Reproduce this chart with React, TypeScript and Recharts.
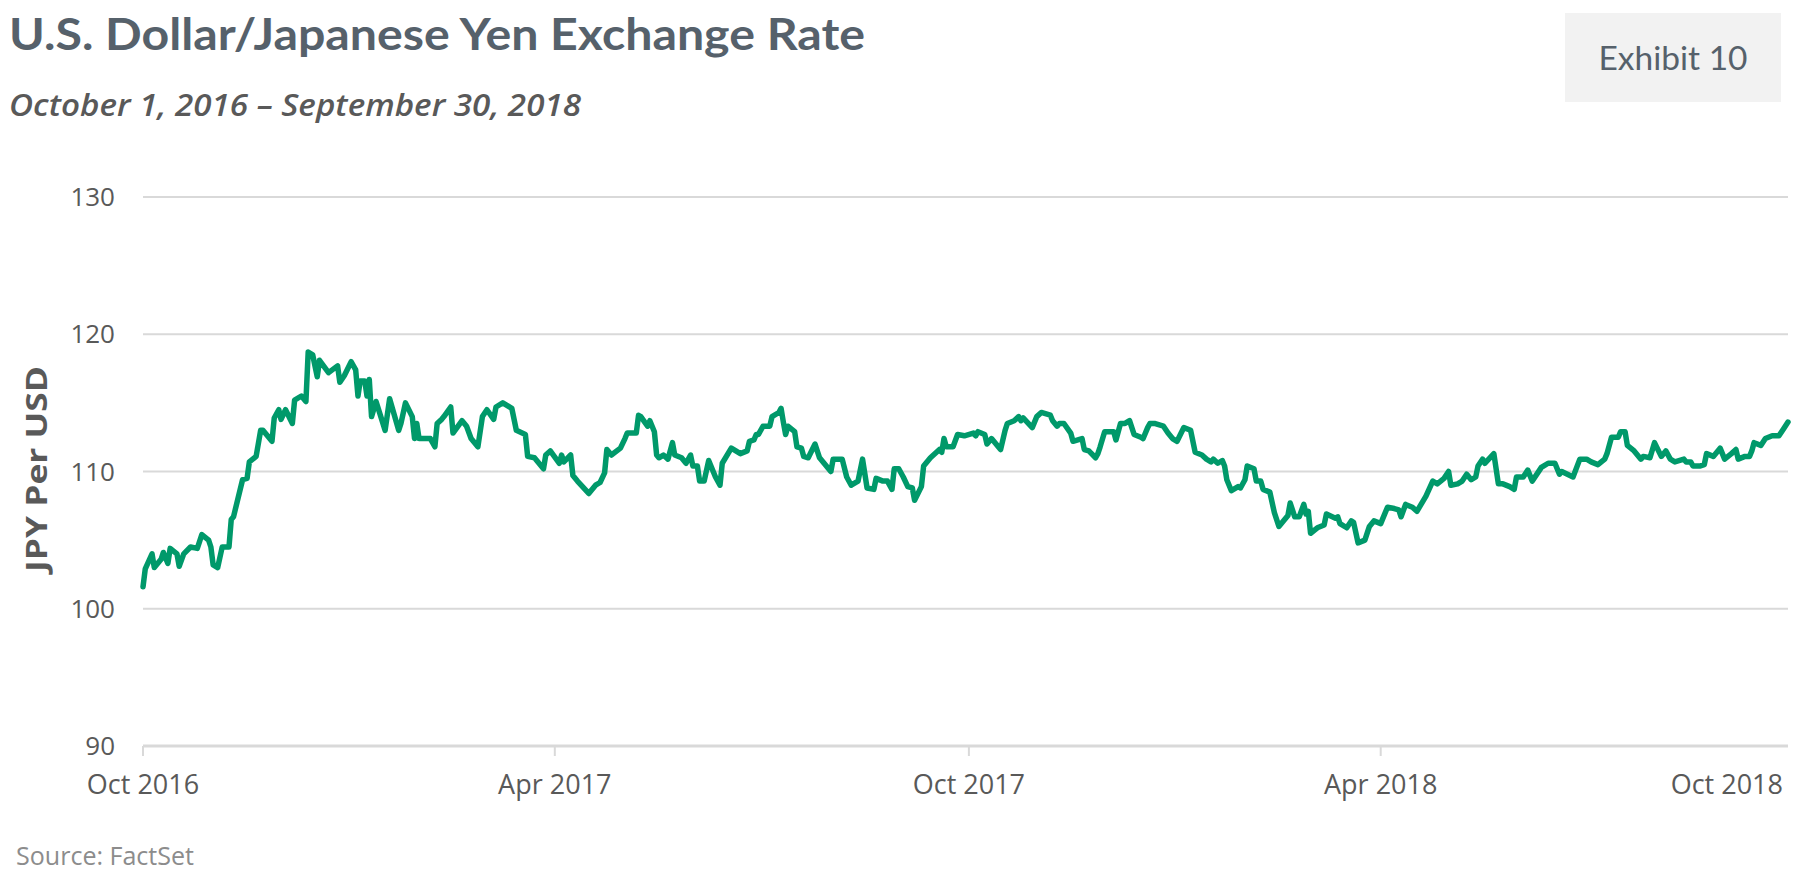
import React from 'react';
import { LineChart, Line, XAxis, YAxis, CartesianGrid } from 'recharts';

// days since Oct 1, 2016
const dayOffsets = [
  0, 1, 4, 5, 8, 9, 11, 12, 15, 16,
  18, 21, 24, 26, 29, 30, 31, 33, 35, 38,
  39, 40, 44, 46, 47, 50, 52, 53, 57, 58,
  60, 61, 63, 66, 67, 70, 72, 73, 75, 77,
  78, 82, 86, 87, 89, 92, 94, 95, 96, 98,
  99, 100, 101, 103, 107, 109, 113, 114, 116, 119,
  120, 121, 122, 127, 129, 130, 132, 133, 136, 137,
  141, 143, 145, 148, 150, 152, 155, 156, 159, 163,
  165, 169, 170, 173, 177, 178, 180, 184, 185, 186,
  189, 190, 192, 197, 200, 202, 204, 205, 207, 211,
  213, 214, 218, 219, 220, 223, 224, 226, 227, 228,
  230, 232, 234, 235, 238, 240, 242, 243, 245, 246,
  248, 250, 253, 255, 256, 260, 264, 267, 268, 270,
  271, 272, 274, 277, 278, 281, 282, 283, 284, 285,
  288, 289, 291, 292, 294, 297, 299, 301, 304, 305,
  309, 311, 313, 316, 318, 320, 323, 324, 327, 329,
  331, 332, 334, 336, 338, 340, 341, 344, 345, 348,
  352, 353, 354, 355, 358, 360, 363, 367, 368, 369,
  372, 373, 375, 379, 381, 382, 385, 387, 388, 389,
  393, 395, 397, 401, 402, 404, 405, 407, 410, 411,
  415, 416, 418, 421, 422, 423, 425, 429, 430, 432,
  434, 436, 438, 441, 442, 444, 445, 447, 451, 453,
  455, 457, 460, 463, 465, 468, 470, 472, 473, 475,
  477, 478, 479, 481, 484, 485, 487, 488, 491, 492,
  494, 495, 498, 500, 502, 506, 507, 509, 511, 513,
  514, 515, 516, 519, 522, 523, 527, 528, 529, 532,
  534, 535, 537, 540, 542, 544, 547, 548, 550, 553,
  555, 556, 558, 561, 563, 567, 570, 572, 575, 577,
  578, 581, 583, 585, 587, 589, 590, 592, 593, 597,
  599, 601, 604, 606, 607, 610, 612, 614, 618, 621,
  624, 626, 627, 632, 635, 638, 640, 643, 646, 647,
  649, 652, 653, 655, 656, 659, 662, 663, 666, 668,
  671, 673, 675, 677, 681, 682, 684, 685, 688, 690,
  691, 694, 697, 699, 702, 704, 705, 708, 710, 711,
  712, 715, 717, 720, 723, 725, 727,
];

// JPY per USD
const rates = [
  101.6, 102.9, 104.0, 103.0, 103.6, 104.1, 103.3, 104.4, 104.0, 103.1,
  104.0, 104.5, 104.4, 105.4, 105.0, 104.5, 103.2, 103.0, 104.5, 104.5,
  106.5, 106.7, 109.4, 109.5, 110.7, 111.1, 113.0, 113.0, 112.2, 113.9,
  114.5, 113.8, 114.5, 113.5, 115.2, 115.5, 115.1, 118.7, 118.5, 116.9,
  118.1, 117.2, 117.7, 116.5, 117.0, 118.0, 117.4, 115.5, 116.6, 116.6,
  115.5, 116.7, 114.0, 115.1, 113.0, 115.3, 113.0, 113.5, 115.0, 114.0,
  112.4, 113.5, 112.4, 112.4, 111.8, 113.5, 113.8, 114.0, 114.7, 112.8,
  113.7, 113.3, 112.4, 111.8, 114.0, 114.5, 113.8, 114.7, 115.0, 114.6,
  113.0, 112.7, 111.1, 111.0, 110.2, 111.2, 111.5, 110.6, 111.2, 110.7,
  111.2, 109.7, 109.3, 108.4, 109.0, 109.2, 109.9, 111.6, 111.2, 111.7,
  112.4, 112.8, 112.8, 114.1, 114.0, 113.3, 113.7, 112.9, 111.2, 111.0,
  111.2, 110.9, 112.1, 111.2, 111.0, 110.6, 111.2, 110.4, 110.4, 109.3,
  109.3, 110.8, 109.6, 109.0, 110.6, 111.7, 111.3, 111.5, 112.2, 112.3,
  112.7, 112.7, 113.3, 113.3, 114.0, 114.3, 114.6, 113.6, 112.7, 113.3,
  112.9, 111.8, 111.7, 111.1, 111.0, 112.0, 111.0, 110.6, 110.0, 110.9,
  110.9, 109.6, 109.0, 109.3, 110.9, 108.8, 108.7, 109.5, 109.3, 109.3,
  108.7, 110.2, 110.2, 109.6, 108.9, 108.8, 107.9, 108.9, 110.4, 111.0,
  111.6, 111.4, 112.4, 111.8, 111.8, 112.7, 112.6, 112.8, 112.6, 112.9,
  112.7, 112.0, 112.4, 111.6, 113.0, 113.5, 113.7, 114.0, 113.7, 113.9,
  113.2, 114.0, 114.3, 114.1, 113.7, 113.3, 113.5, 113.5, 112.8, 112.2,
  112.4, 111.6, 111.5, 111.0, 111.3, 111.8, 112.9, 112.9, 112.3, 113.5,
  113.5, 113.7, 112.7, 112.5, 112.4, 113.2, 113.5, 113.5, 113.3, 112.8,
  112.4, 112.2, 113.2, 113.0, 111.4, 111.2, 110.9, 110.7, 110.9, 110.6,
  110.8, 110.4, 109.4, 108.6, 108.9, 108.8, 109.4, 110.4, 110.2, 109.3,
  109.3, 108.7, 108.5, 107.0, 106.0, 106.8, 107.7, 106.7, 106.7, 107.6,
  106.9, 107.1, 105.5, 105.9, 106.1, 106.9, 106.6, 106.7, 106.2, 105.9,
  106.4, 106.3, 104.8, 105.0, 106.0, 106.4, 106.2, 106.6, 107.4, 107.3,
  107.2, 106.7, 107.6, 107.4, 107.1, 108.2, 109.3, 109.1, 109.5, 110.0,
  109.0, 109.1, 109.3, 109.8, 109.4, 109.6, 110.4, 110.9, 110.6, 111.3,
  109.1, 109.1, 108.9, 108.7, 109.6, 109.6, 110.1, 109.3, 110.3, 110.6,
  110.6, 109.8, 110.0, 109.6, 110.9, 110.9, 110.7, 110.5, 110.9, 111.3,
  112.5, 112.5, 112.9, 112.9, 111.9, 111.5, 110.9, 111.1, 111.0, 112.1,
  111.1, 111.5, 110.9, 110.7, 110.9, 110.7, 110.7, 110.4, 110.4, 110.5,
  111.3, 111.1, 111.7, 110.9, 111.3, 111.6, 110.9, 111.1, 111.1, 111.5,
  112.1, 111.9, 112.4, 112.6, 112.6, 113.1, 113.6,
];

const yTicks = [90, 100, 110, 120, 130];
const xTickDays = [0, 182, 365, 547, 727];
const xTickLabels = ['Oct 2016', 'Apr 2017', 'Oct 2017', 'Apr 2018', 'Oct 2018'];

const data = dayOffsets.map((day, i) => ({ day, rate: rates[i] }));

const TEXT = '#595959';
const SLATE = '#56616b';
const GRID = '#d9d9d9';
const GREEN = '#00996a';

const X_TICK_MARGIN = 29;

const XTick = (props: any) => {
  const { x, y, payload } = props;
  const idx = xTickDays.indexOf(payload.value);
  const isLast = idx === xTickDays.length - 1;
  const axisY = y - X_TICK_MARGIN;
  return (
    <g>
      {!isLast && <line x1={x} x2={x} y1={axisY} y2={axisY + 10} stroke={GRID} strokeWidth={2} />}
      <text
        x={isLast ? x - 5 : x}
        y={y}
        dy="0.71em"
        textAnchor={isLast ? 'end' : 'middle'}
        fill={TEXT}
        fontSize={27}
        fontFamily="'Open Sans', sans-serif"
      >
        {xTickLabels[idx]}
      </text>
    </g>
  );
};

export default function App() {
  return (
    <div style={{ position: 'absolute', left: 0, top: 0, width: 1797, height: 879, background: '#fff', fontFamily: "'Open Sans', sans-serif" }}>
      <svg width={1797} height={879} style={{ position: 'absolute', left: 0, top: 0 }}>
        <text x={9} y={50} fontFamily="Lato, sans-serif" fontWeight={700} fontSize={44} fill={SLATE} textLength={856} lengthAdjust="spacingAndGlyphs">
          U.S. Dollar/Japanese Yen Exchange Rate
        </text>
        <text x={9} y={116} fontFamily="'Open Sans', sans-serif" fontStyle="italic" fontWeight={600} fontSize={30} fill={TEXT} textLength={572} lengthAdjust="spacingAndGlyphs">
          October 1, 2016 – September 30, 2018
        </text>
        <rect x={1565} y={13} width={216} height={89} fill="#f2f2f2" />
        <text x={1673} y={70} textAnchor="middle" fontFamily="Lato, sans-serif" fontSize={32} fill={SLATE} textLength={149} lengthAdjust="spacingAndGlyphs">
          Exhibit 10
        </text>
        <text
          x={47}
          y={469}
          transform="rotate(-90 47 469)"
          textAnchor="middle"
          fontFamily="'Open Sans', sans-serif"
          fontWeight={700}
          fontSize={29}
          fill={TEXT}
          textLength={206}
          lengthAdjust="spacingAndGlyphs"
        >
          JPY Per USD
        </text>
        <text x={16} y={865} fontFamily="'Open Sans', sans-serif" fontSize={25} fill="#8c8c8c" textLength={178} lengthAdjust="spacingAndGlyphs">
          Source: FactSet
        </text>
      </svg>
      <div style={{ position: 'absolute', left: 0, top: 0 }}>
        <LineChart width={1797} height={879} data={data} margin={{ top: 197, right: 9, bottom: 83, left: 63 }}>
          <CartesianGrid vertical={false} stroke={GRID} strokeWidth={2} />
          <XAxis
            dataKey="day"
            type="number"
            domain={[0, 727]}
            ticks={xTickDays}
            interval={0}
            height={50}
            axisLine={{ stroke: GRID, strokeWidth: 3 }}
            tickLine={false}
            tickSize={0}
            tickMargin={X_TICK_MARGIN}
            tick={<XTick />}
          />
          <YAxis
            type="number"
            domain={[90, 130]}
            ticks={yTicks}
            width={80}
            axisLine={false}
            tickLine={false}
            tickSize={0}
            tickMargin={28}
            tick={{ fill: TEXT, fontSize: 26, fontFamily: "'Open Sans', sans-serif" }}
          />
          <Line
            dataKey="rate"
            type="linear"
            stroke={GREEN}
            strokeWidth={5.5}
            strokeLinejoin="round"
            strokeLinecap="round"
            dot={false}
            isAnimationActive={false}
          />
        </LineChart>
      </div>
    </div>
  );
}
